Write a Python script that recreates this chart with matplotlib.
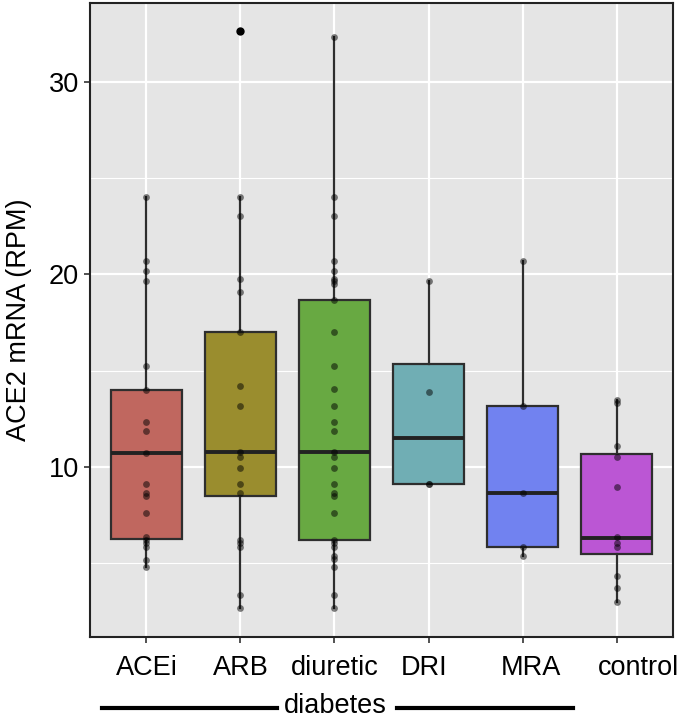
import matplotlib
matplotlib.use("Agg")
import matplotlib.pyplot as plt
from matplotlib.lines import Line2D
from matplotlib.transforms import ScaledTranslation

plt.rcParams['font.family'] = ['Liberation Sans', 'DejaVu Sans']

categories = ["ACEi", "ARB", "diuretic", "DRI", "MRA", "control"]
fill_colors = ["#C0675F", "#9A8D2E", "#68A942", "#70AEB4", "#7182F0", "#BB56D4"]

# individual sample values (RPM)
points_acei = [24.04, 20.7, 20.18, 19.66, 15.26, 13.98, 12.32, 11.89, 10.71, 9.12,
               8.65, 8.51, 7.59, 6.38, 6.21, 6.07, 5.86, 5.17, 4.79]
points_arb = [32.66, 24.04, 23.05, 19.78, 19.11, 17.01, 14.21, 13.19, 10.80, 10.5,
              9.96, 9.1, 8.63, 6.21, 6.04, 5.83, 3.37, 2.66]
points_diuretic = [32.36, 24.04, 23.05, 20.7, 20.18, 19.78, 19.66, 19.5, 18.68, 17.01,
                   15.26, 14.07, 13.19, 12.32, 11.89, 10.80, 10.5, 9.96, 9.1, 8.65,
                   8.51, 7.59, 6.21, 6.04, 5.86, 5.39, 5.22, 4.79, 3.37, 2.66]
points_dri = [19.66, 13.91, 9.12, 9.13]
points_mra = [20.7, 13.17, 8.65, 5.83, 5.38]
points_control = [13.48, 13.34, 11.1, 10.54, 8.98, 6.35, 6.04, 5.86, 4.35, 3.73, 3.0]
all_points = [points_acei, points_arb, points_diuretic, points_dri, points_mra, points_control]

# box statistics
q1 = [6.28, 8.49, 6.21, 9.12, 5.83, 5.48]
med = [10.71, 10.80, 10.76, 11.52, 8.65, 6.33]
q3 = [13.98, 17.01, 18.68, 15.37, 13.17, 10.68]
whislo = [4.79, 2.66, 2.66, 9.12, 5.38, 3.0]
whishi = [24.04, 24.04, 32.36, 19.66, 20.7, 13.48]
fliers = [[], [32.66], [], [], [], []]

yticks = [10, 20, 30]
yminor = [5, 15, 25]

fig = plt.figure(figsize=(6.8, 7.18), dpi=100)
ax = fig.add_axes([90/680, 1-637/718, 583/680, 634/718])
ax.set_facecolor("#E5E5E5")

pos = list(range(1, len(categories) + 1))
stats = []
for i in range(len(categories)):
    stats.append(dict(q1=q1[i], med=med[i], q3=q3[i], whislo=whislo[i],
                      whishi=whishi[i], fliers=fliers[i]))

bp = ax.bxp(stats, positions=pos, widths=0.75, patch_artist=True, showcaps=False,
            boxprops=dict(edgecolor="#2E2E2E", linewidth=1.6),
            whiskerprops=dict(color="#2E2E2E", linewidth=1.6),
            medianprops=dict(color="#222222", linewidth=2.8),
            flierprops=dict(marker="o", markerfacecolor="black", markeredgecolor="black",
                            markersize=5.0), zorder=3)
for patch, c in zip(bp["boxes"], fill_colors):
    patch.set_facecolor(c)

for p, vals in zip(pos, all_points):
    ax.scatter([p] * len(vals), vals, s=24, color="black", alpha=0.5,
               linewidths=0, zorder=4)

ax.set_xlim(0.4, 6.6)
ax.set_ylim(1.17, 34.1)
ax.set_yticks(yticks)
ax.set_yticks(yminor, minor=True)
ax.set_xticks(pos)
ax.set_xticklabels(categories)
ax.grid(True, which="major", color="white", linewidth=1.6, zorder=0)
ax.grid(True, which="minor", axis="y", color="white", linewidth=0.8, zorder=0)
ax.set_axisbelow(True)
ax.tick_params(axis="both", which="major", length=4, width=1.2, color="#333333",
               labelsize=19.5, labelcolor="black", pad=4)
ax.tick_params(axis="x", pad=9)
ax.tick_params(axis="y", which="minor", length=0)
for s in ax.spines.values():
    s.set_color("#222222")
    s.set_linewidth(1.5)

# the reference's category labels sit slightly off-centre for the last ones
label_shift_px = [0, 0, 0, -4, 8, 22]
for lab, dx in zip(ax.get_xticklabels(), label_shift_px):
    lab.set_transform(lab.get_transform() + ScaledTranslation(dx / 100, 0, fig.dpi_scale_trans))

ax.set_ylabel("ACE2 mRNA (RPM)", fontsize=19.5, labelpad=12)

fig.text(335/680, 1-706/718, "diabetes", ha="center", va="center", fontsize=19.5)
fig.add_artist(Line2D([102/680, 277/680], [1-708/718, 1-708/718], color="black",
                      linewidth=3, transform=fig.transFigure))
fig.add_artist(Line2D([397/680, 573/680], [1-708/718, 1-708/718], color="black",
                      linewidth=3, transform=fig.transFigure))

fig.savefig("out.png", dpi=100)
